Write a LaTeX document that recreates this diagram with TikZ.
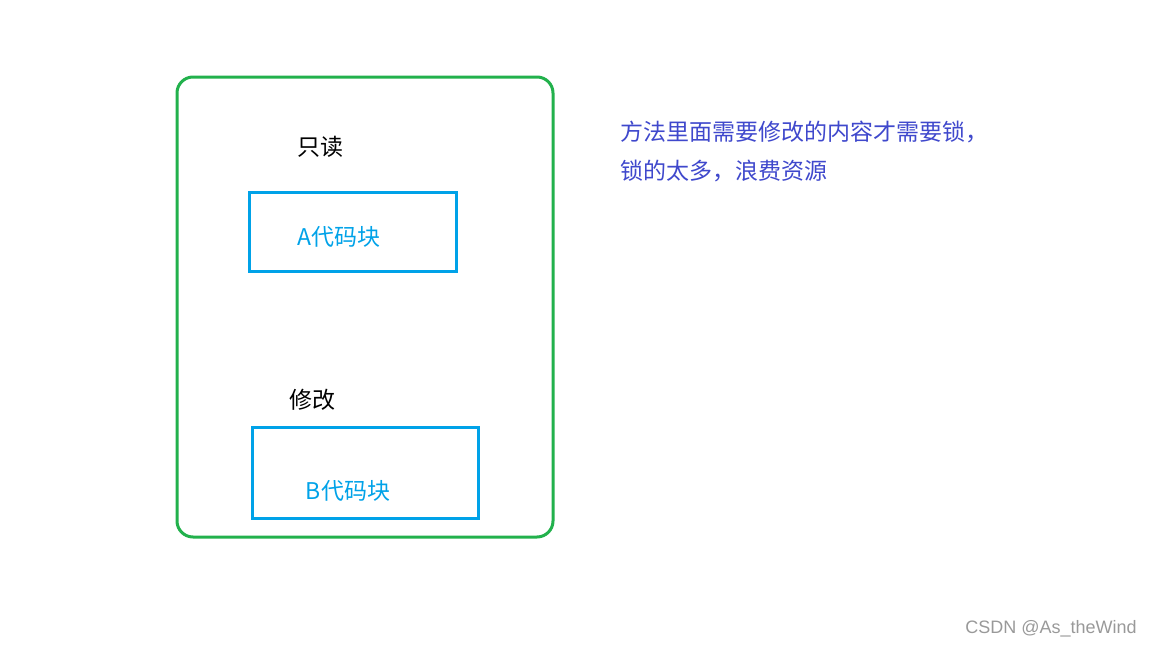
\documentclass[tikz,border=0pt]{standalone}
\usepackage{fontspec}
\setmainfont{Liberation Sans}
\newfontfamily\cjk{Noto Sans CJK SC}
\definecolor{my green}{HTML}{22B14C}
\definecolor{my blue}{HTML}{00A2E8}
\definecolor{my purple}{HTML}{3F48CC}
\tikzset{
  label text/.style={font=\cjk\fontsize{11.5}{14}\selectfont, inner sep=0pt},
  block/.style={my blue, line width=1.5},
}

\begin{document}
\begin{tikzpicture}[x=0.5pt, y=-0.5pt]
                \useasboundingbox (0, 0) rectangle (1152, 648);
                \draw [my green, line width=1.5, rounded corners=8] (177, 77) rectangle (553, 537);
                \draw [block] (249, 192) rectangle (456, 271);
                \draw [block] (252, 427) rectangle (478, 518);
                \node [label text] (read) at (320, 147) {只读};
                \node [label text, my blue] (codea) at (339, 237) {A代码块};
                \node [label text] (modify) at (312, 400) {修改};
                \node [label text, my blue] (codeb) at (348, 491) {B代码块};
                \node [label text, my purple, anchor=west] (note1) at (620, 132) {方法里面需要修改的内容才需要锁，};
                \node [label text, my purple, anchor=west] (note2) at (620, 171) {锁的太多，浪费资源};
                \node [anchor=east, inner sep=0pt, black!40, font=\fontsize{9}{12}\selectfont] (mark) at (1137, 629) {CSDN @As\_theWind};
            \end{tikzpicture}
\end{document}
